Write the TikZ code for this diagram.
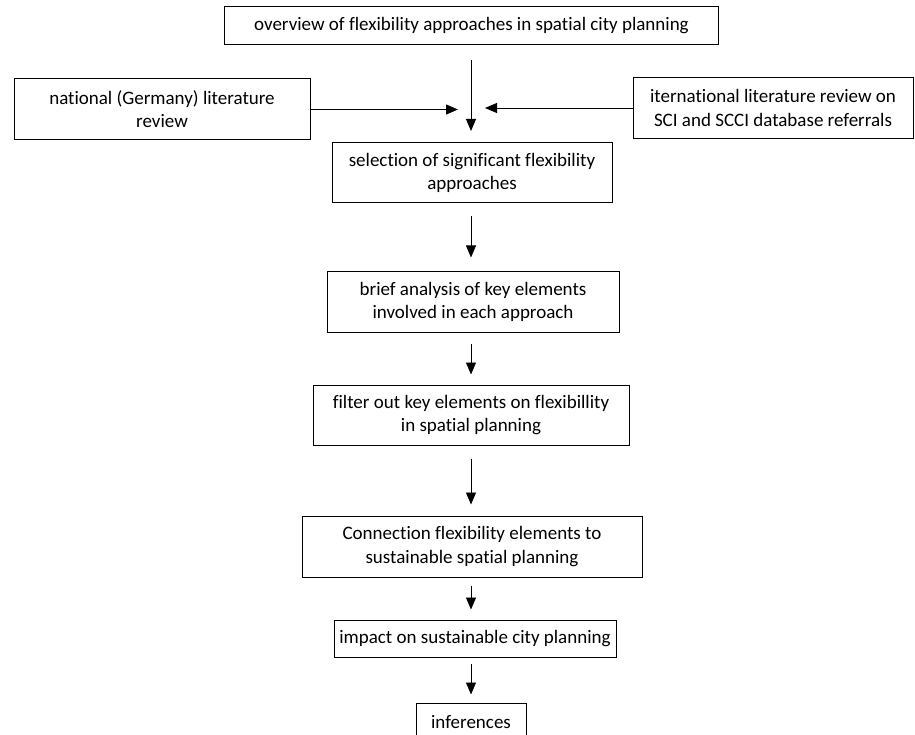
\documentclass[tikz,border=0pt]{standalone}
\usepackage{fontspec}
\setmainfont{Carlito}[Ligatures=NoCommon]
\usetikzlibrary{arrows.meta}
\begin{document}
\begin{tikzpicture}[x=1pt,y=-1pt,
  box/.style={draw, line width=1pt, inner sep=0pt, align=center, font=\fontsize{19}{23.2}\selectfont},
  arr/.style={draw, line width=0.9pt, -{Triangle[length=12pt,width=10pt]}}]
\clip (0,0) rectangle (915,735);
\path[use as bounding box] (0,0) rectangle (915,735);

\node[box, minimum width=494pt, minimum height=38pt] (top) at (471.5,26) {overview of flexibility approaches in spatial city planning};
\node[box, minimum width=296pt, minimum height=61pt] (nat) at (162,109.5) {national (Germany) literature\\review};
\node[box, minimum width=280pt, minimum height=61pt] (intl) at (773,108) {iternational literature review on\\SCI and SCCI database referrals};
\node[box, minimum width=280pt, minimum height=60pt] (sel) at (472,173) {selection of significant flexibility\\approaches};
\node[box, minimum width=292pt, minimum height=60pt] (brief) at (473,302) {brief analysis of key elements\\involved in each approach};
\node[box, minimum width=316pt, minimum height=60pt] (filt) at (471,415) {filter out key elements on flexibillity\\in spatial planning};
\node[box, minimum width=340pt, minimum height=61pt] (conn) at (472,546.5) {Connection flexibility elements to\\sustainable spatial planning};
\node[box, minimum width=282pt, minimum height=37pt] (imp) at (475,638.5) {impact on sustainable city planning};
\node[box, minimum width=110pt, minimum height=38pt] (inf) at (471,722) {inferences};

\coordinate (junc) at (471,131);
\coordinate (ljunc) at (458,109.5);
\coordinate (rjunc) at (485,108);

\draw[arr, shorten <=15pt] (top.south -| junc) -- (junc);
\draw[arr] (nat.east) -- (ljunc);
\draw[arr] (intl.west) -- (rjunc);
\draw[arr, shorten <=13pt, shorten >=14pt] (sel.south -| junc) -- (brief.north -| junc);
\draw[arr, shorten <=11pt, shorten >=10pt] (brief.south -| junc) -- (filt.north -| junc);
\draw[arr, shorten <=13pt, shorten >=11pt] (filt.south -| junc) -- (conn.north -| junc);
\draw[arr, shorten <=8pt, shorten >=10pt] (conn.south -| junc) -- (imp.north -| junc);
\draw[arr, shorten <=6pt, shorten >=8pt] (imp.south -| junc) -- (inf.north -| junc);
\end{tikzpicture}
\end{document}
